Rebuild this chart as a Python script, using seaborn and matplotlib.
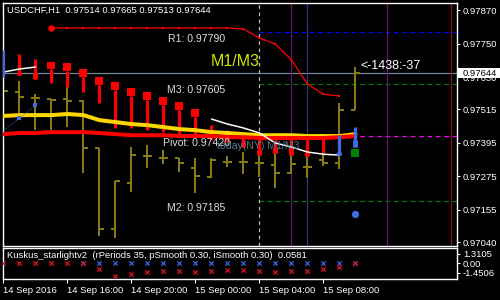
import numpy as np
import pandas as pd
import matplotlib
matplotlib.use("Agg")
import matplotlib.pyplot as plt
import seaborn as sns
from matplotlib import transforms
from matplotlib.patches import Rectangle

# ---------------- data ----------------
bar_idx = list(range(23))
opens  = [0.97600, 0.97576, 0.97555, 0.97551, 0.97550, 0.97544, 0.97376, 0.97086, 0.97251, 0.97347, 0.97340, 0.97340,
          0.97304, 0.97272, 0.97326, 0.97326, 0.97322, 0.97315, 0.97286, 0.97308, 0.97333, 0.97322, 0.97514]
highs  = [0.97841, 0.97616, 0.97569, 0.97551, 0.97594, 0.97548, 0.97376, 0.97258, 0.97380, 0.97387, 0.97369, 0.97340,
          0.97340, 0.97340, 0.97347, 0.97362, 0.97369, 0.97387, 0.97376, 0.97369, 0.97362, 0.97537, 0.97665]
lows   = [0.97476, 0.97501, 0.97440, 0.97440, 0.97451, 0.97286, 0.97061, 0.97054, 0.97218, 0.97304, 0.97319, 0.97290,
          0.97215, 0.97269, 0.97308, 0.97283, 0.97272, 0.97233, 0.97283, 0.97269, 0.97312, 0.97301, 0.97513]
closes = [0.97580, 0.97559, 0.97555, 0.97548, 0.97544, 0.97376, 0.97086, 0.97258, 0.97351, 0.97347, 0.97340, 0.97322,
          0.97276, 0.97333, 0.97326, 0.97326, 0.97322, 0.97286, 0.97319, 0.97308, 0.97322, 0.97514, 0.97644]

yellow_ma = [0.97491, 0.97494, 0.97494, 0.97494, 0.97498, 0.97494, 0.97476, 0.97469, 0.97462, 0.97458, 0.97451, 0.97444,
             0.97440, 0.97433, 0.97430, 0.97426, 0.97422, 0.97422, 0.97422, 0.97419, 0.97419, 0.97419, 0.97426]
red_ma = [0.97426, 0.97430, 0.97430, 0.97433, 0.97433, 0.97433, 0.97430, 0.97426, 0.97422, 0.97422, 0.97422, 0.97419,
          0.97419, 0.97419, 0.97415, 0.97415, 0.97412, 0.97412, 0.97412, 0.97412, 0.97412, 0.97415, 0.97419]

top_line_idx = list(range(3, 22))
top_line = [0.97806] * 12 + [0.97802, 0.97770, 0.97748, 0.97691, 0.97605, 0.97569, 0.97562]

white1_idx = [0, 1, 2]
white1 = [0.97648, 0.97659, 0.97666]
white2_idx = list(range(13, 22))
white2 = [0.97480, 0.97462, 0.97448, 0.97430, 0.97394, 0.97380, 0.97362, 0.97354, 0.97351]

blue_dot_idx = [0, 1, 2]
blue_dot_line = [0.97440, 0.97483, 0.97530]

wick_idx = list(range(1, 21))
wick_top = [0.97712, 0.97695, 0.97659, 0.97652, 0.97630, 0.97601, 0.97584, 0.97562, 0.97548, 0.97530, 0.97512,
            0.97487, 0.97458, 0.97440, 0.97422, 0.97415, 0.97415, 0.97412, 0.97412, 0.97412]
wick_bot = [0.97637, 0.97623, 0.97609, 0.97594, 0.97576, 0.97537, 0.97448, 0.97448, 0.97440, 0.97433, 0.97426,
            0.97419, 0.97405, 0.97397, 0.97380, 0.97351, 0.97358, 0.97351, 0.97347, 0.97358]

sq_idx = list(range(3, 13))
sq_top = [0.97684, 0.97680, 0.97659, 0.97630, 0.97612, 0.97591, 0.97576, 0.97559, 0.97541, 0.97516]
sq_bot = [0.97659, 0.97652, 0.97630, 0.97601, 0.97584, 0.97562, 0.97548, 0.97530, 0.97512, 0.97487]

low_body_idx = [1, 2, 15, 16, 17, 18, 19]
low_body_top = [0.97648, 0.97644, 0.97397, 0.97369, 0.97380, 0.97376, 0.97362]
low_body_bot = [0.97637, 0.97623, 0.97380, 0.97351, 0.97358, 0.97351, 0.97347]

blue_idx = [0, 21, 22]
blue_top = [0.97727, 0.97422, 0.97451]
blue_bot = [0.97630, 0.97351, 0.97380]
blue_body_idx = [21, 22]
blue_body_top = [0.97362, 0.97405]
blue_body_bot = [0.97351, 0.97380]

green_sq_idx = [22]
green_sq = [0.97358]
blue_point_idx = [22]
blue_point = [0.97140]

level_names = ["R1", "M3", "Pivot", "M2"]
level_values = [0.97790, 0.97605, 0.97420, 0.97185]
level_colors = ["#0000ff", "#008000", "#ff00ff", "#008000"]
current_price = 0.97644

ind_red = [0, 0, 0, 0, 0, 0, -0.87, -1.89, -1.60, -1.31, -1.16, -1.16, -1.31, -1.16, -1.02, -1.02, -1.16,
           -1.31, -1.16, -1.16, -0.87, -0.58, 0.06]
ind_blue_idx = list(range(5, 23))
ind_blue = [0.0] * 18

price_ticks = [0.97870, 0.97750, 0.97630, 0.97515, 0.97395, 0.97275, 0.97155, 0.97040]
ind_ticks = [1.3105, 0.0, -1.4506]
ind_tick_labels = ["1.3105", "0.00", "-1.4506"]
time_tick_idx = [0, 4, 8, 12, 16, 20]
time_labels = ["14 Sep 2016", "14 Sep 16:00", "14 Sep 20:00", "15 Sep 00:00", "15 Sep 04:00", "15 Sep 08:00"]

# ---------------- style ----------------
sns.set_theme(style="dark", rc={"axes.facecolor": "black", "figure.facecolor": "black",
                                "axes.edgecolor": "white", "axes.grid": False})
plt.rcParams['font.family'] = ['Liberation Sans', 'DejaVu Sans']

OLIVE = "#8a7a12"
RED = "#ff0000"
YEL = "#ffd700"
BLUE = "#4169e1"
FS = 6.8
PX = 0.72  # one pixel in points

fig = plt.figure(figsize=(5, 3), dpi=100)
ax = fig.add_axes([3 / 500, 54 / 300, 454 / 500, 243 / 300])
ax2 = fig.add_axes([3 / 500, 21 / 300, 454 / 500, 31 / 300])
XMIN, XMAX = -0.03, 28.345
for a in (ax, ax2):
    a.set_facecolor("black")
    a.set_xlim(XMIN, XMAX)
    for s in a.spines.values():
        s.set_color("white")
        s.set_linewidth(1.0)
ax.set_ylim(0.970257, 0.978951)
ax2.set_ylim(-2.325, 2.18)

x = np.array(bar_idx, dtype=float)

# level lines and vertical markers
ax.axhline(current_price, color="#778899", lw=1.2 * PX, zorder=1)
for v, c in zip(level_values, level_colors):
    ax.hlines(v, 16, XMAX, colors=c, lw=1.2 * PX, linestyles=(0, (4, 3)), zorder=1)
ax.axvline(16, color="#c0c0c0", lw=1.2 * PX, linestyle=(0, (3, 3)), zorder=1)
ax.axvline(18, color="#6e1478", lw=1.2 * PX, zorder=1)
ax.axvline(19, color="#34348c", lw=1.2 * PX, zorder=1)
ax.axvline(24, color="#6e1478", lw=1.2 * PX, zorder=1)
ax.axvline(28, color="#8c1414", lw=1.2 * PX, zorder=1)

# OHLC bars
tick = 0.28
ax.vlines(x, lows, highs, colors=OLIVE, lw=2 * PX, zorder=2)
ax.hlines(opens, x - tick, x, colors=OLIVE, lw=2 * PX, zorder=2)
ax.hlines(closes, x, x + tick, colors=OLIVE, lw=2 * PX, zorder=2)

# red heiken-like blocks
ax.vlines(wick_idx, wick_bot, wick_top, colors=RED, lw=3.2 * PX, zorder=3)
ax.vlines(sq_idx, sq_bot, sq_top, colors=RED, lw=8 * PX, zorder=3)
ax.vlines(low_body_idx, low_body_bot, low_body_top, colors=RED, lw=5 * PX, zorder=3)

# moving averages
sns.lineplot(x=bar_idx, y=yellow_ma, ax=ax, color=YEL, lw=4 * PX, estimator=None, zorder=4)
sns.lineplot(x=bar_idx, y=red_ma, ax=ax, color=RED, lw=4 * PX, estimator=None, zorder=5)

# top red line with dots
sns.lineplot(x=top_line_idx, y=top_line, ax=ax, color=RED, lw=1.3 * PX, estimator=None, zorder=5)
sns.scatterplot(x=top_line_idx[1:], y=top_line[1:], ax=ax, color=RED, marker="s", s=3, linewidth=0, zorder=5)
sns.scatterplot(x=top_line_idx[:1], y=top_line[:1], ax=ax, color=RED, marker="o", s=22, linewidth=0, zorder=5)

# white lines
sns.lineplot(x=white1_idx, y=white1, ax=ax, color="white", lw=1.5 * PX, estimator=None, zorder=6)
sns.lineplot(x=white2_idx, y=white2, ax=ax, color="white", lw=1.5 * PX, estimator=None, zorder=6)

# blue dotted line
sns.lineplot(x=blue_dot_idx, y=blue_dot_line, ax=ax, color=BLUE, lw=1 * PX, linestyle=":", estimator=None, zorder=6)
sns.scatterplot(x=blue_dot_idx[1:], y=blue_dot_line[1:], ax=ax, color=BLUE, marker="s", s=7, linewidth=0, zorder=6)

# blue blocks, green square, blue dot
ax.vlines(blue_idx, blue_bot, blue_top, colors=BLUE, lw=3.2 * PX, zorder=6)
ax.vlines(blue_body_idx, blue_body_bot, blue_body_top, colors=BLUE, lw=5 * PX, zorder=6)
sns.scatterplot(x=green_sq_idx, y=green_sq, ax=ax, color="#008000", marker="s", s=36, linewidth=0, zorder=7)
sns.scatterplot(x=blue_point_idx, y=blue_point, ax=ax, color=BLUE, marker="o", s=28, linewidth=0, zorder=7)

# texts
TXT = "#dcdce6"
ax.text(10.31, 0.97766, f"R1: {level_values[0]:.5f}", color=TXT, fontsize=7.6, va="center", ha="left", zorder=8)
ax.text(10.25, 0.97584, f"M3: {level_values[1]:.5f}", color=TXT, fontsize=7.6, va="center", ha="left", zorder=8)
ax.text(10.0, 0.97396, f"Pivot: {level_values[2]:.5f}", color=TXT, fontsize=7.6, va="center", ha="left", zorder=8)
ax.text(10.25, 0.97161, f"M2: {level_values[3]:.5f}", color=TXT, fontsize=7.6, va="center", ha="left", zorder=8)
ax.text(12.94, 0.97686, "M1/M3", color="#cce600", fontsize=11.5, va="center", ha="left", zorder=8)
ax.text(13.375, 0.97383, "today(NY) M1/M3", color="#557a8c", fontsize=7.6, va="center", ha="left", zorder=8)
ax.text(22.31, 0.97670, "<-1438:-37", color="white", fontsize=9.0, va="center", ha="left", zorder=8)

fig.text(7 / 500, 1 - 10.5 / 300, "USDCHF,H1  0.97514 0.97665 0.97513 0.97644", color="white",
         fontsize=FS, va="center", ha="left")
fig.text(7 / 500, 1 - 256 / 300, "Kuskus_starlightv2  (rPeriods 35, pSmooth 0.30, iSmooth 0.30)  0.0581",
         color="white", fontsize=FS, va="center", ha="left")

# right price axis
ax.yaxis.tick_right()
ax.set_yticks(price_ticks)
ax.set_yticklabels([f"{v:.5f}" for v in price_ticks])
ax.tick_params(axis="y", colors="white", length=3 * PX, width=PX, pad=2.2, labelsize=FS)
ax.set_xticks([])
ax.set_xlabel("")
ax.set_ylabel("")

# current price box
bt = transforms.blended_transform_factory(fig.transFigure, ax.transData)
ax.add_patch(Rectangle((458 / 500, 0.97628), 42 / 500, 0.000358, transform=bt, facecolor="white",
                       edgecolor="none", clip_on=False, zorder=20))
ax.text(463 / 500, current_price, f"{current_price:.5f}", transform=bt, color="black", fontsize=FS,
        va="center", ha="left", zorder=21, clip_on=False)

# indicator panel
sns.scatterplot(x=bar_idx, y=ind_red, ax=ax2, color="#e01020", marker="x", s=10, linewidth=0.9, zorder=3)
sns.scatterplot(x=ind_blue_idx, y=ind_blue, ax=ax2, color="#4060e0", marker="x", s=10, linewidth=0.9, zorder=2)
ax2.yaxis.tick_right()
ax2.set_yticks(ind_ticks)
ax2.set_yticklabels(ind_tick_labels)
ax2.tick_params(axis="y", colors="white", length=3 * PX, width=PX, pad=2.2, labelsize=FS)
ax2.set_xticks(time_tick_idx)
ax2.set_xticklabels(time_labels)
ax2.tick_params(axis="x", colors="white", length=4 * PX, width=PX, pad=2.0, labelsize=FS, bottom=True)
for lbl in ax2.get_xticklabels():
    lbl.set_ha("left")
ax2.set_xlabel("")
ax2.set_ylabel("")

fig.savefig("out.png", dpi=100, facecolor="black")
